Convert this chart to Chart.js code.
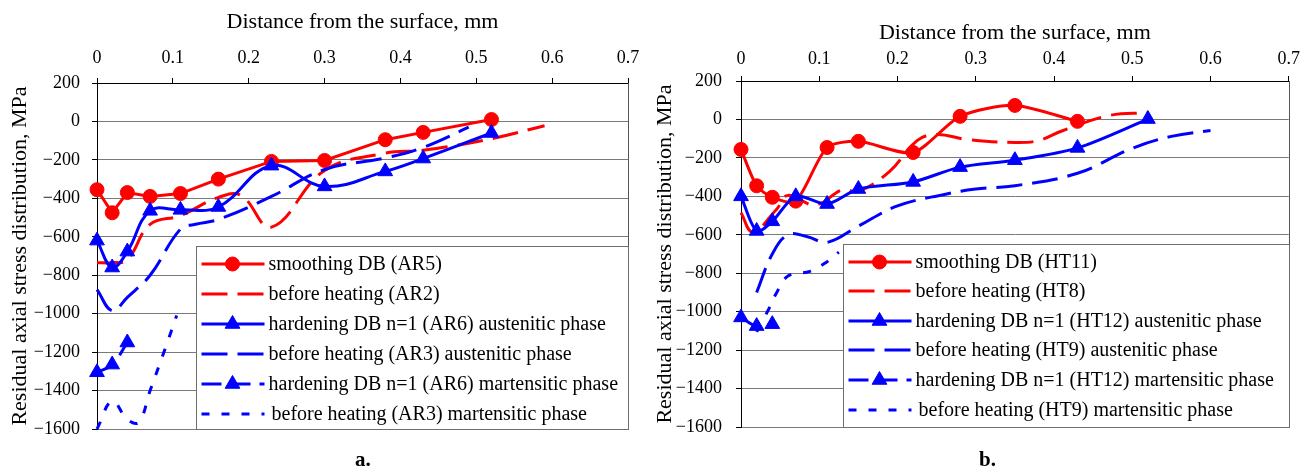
<!DOCTYPE html>
<html><head><meta charset="utf-8">
<script src="https://cdn.jsdelivr.net/npm/chart.js@4.4.1/dist/chart.umd.min.js"></script>
<style>
html,body{margin:0;padding:0;background:#fff;}
#wrap{position:relative;width:1306px;height:471px;overflow:hidden;background:#fff;}
canvas{position:absolute;top:0;}
#c1{left:0}
#c2{left:650px}
.lab{position:absolute;font:bold 21px 'Liberation Serif','Times New Roman',serif;top:447px;color:#000;}
</style></head><body>
<div id="wrap">
<canvas id="c1" width="650" height="471"></canvas>
<canvas id="c2" width="656" height="471"></canvas>
<div class="lab" style="left:355px">a.</div>
<div class="lab" style="left:979px">b.</div>
</div>
<script>
// ---- axis ticks ----
const xTickValues = [0,0.1,0.2,0.3,0.4,0.5,0.6,0.7];
const xTickLabels = ['0','0.1','0.2','0.3','0.4','0.5','0.6','0.7'];
const yTickValues = [-1600,-1400,-1200,-1000,-800,-600,-400,-200,0,200];
const yTickLabels = ['\u22121600','\u22121400','\u22121200','\u22121000','\u2212800','\u2212600','\u2212400','\u2212200','0','200'];
const xTitle = 'Distance from the surface, mm';
const yTitle = 'Residual axial stress distribution, MPa';

// ---- chart a ----
const xAR5 = [0,0.02,0.04,0.07,0.11,0.16,0.23,0.30,0.38,0.43,0.52];
const yAR5 = [-355,-475,-370,-390,-375,-300,-208,-203,-95,-57,10];
const xAR2 = [0,0.02,0.04,0.07,0.11,0.16,0.19,0.23,0.30,0.38,0.43,0.52,0.59];
const yAR2 = [-735,-735,-720,-535,-490,-395,-385,-550,-255,-165,-150,-90,-22];
const xAR6a = [0,0.02,0.04,0.07,0.11,0.16,0.23,0.30,0.38,0.43,0.52];
const yAR6a = [-620,-760,-677,-465,-460,-445,-230,-338,-260,-193,-60];
const xAR3a = [0,0.02,0.04,0.07,0.11,0.13,0.16,0.23,0.30,0.38,0.43,0.49];
const yAR3a = [-875,-985,-915,-800,-560,-535,-510,-390,-250,-190,-135,-30];
const xAR6m = [0,0.02,0.04];
const yAR6m = [-1305,-1265,-1150];
const xAR3m = [0,0.02,0.04,0.055,0.07,0.09,0.105];
const yAR3m = [-1600,-1455,-1550,-1565,-1400,-1180,-1010];
const labelsA = ['smoothing DB (AR5)','before heating (AR2)','hardening DB n=1 (AR6) austenitic phase','before heating (AR3) austenitic phase','hardening DB n=1 (AR6) martensitic phase','before heating (AR3) martensitic phase'];

// ---- chart b ----
const xHT11 = [0,0.02,0.04,0.07,0.11,0.15,0.22,0.28,0.35,0.43];
const yHT11 = [-156,-345,-405,-425,-146,-114,-172,16,73,-10];
const xHT8 = [0,0.015,0.045,0.06,0.095,0.13,0.15,0.19,0.225,0.25,0.29,0.35,0.38,0.41,0.47,0.52];
const yHT8 = [-485,-585,-470,-395,-445,-365,-375,-270,-110,-78,-105,-120,-110,-60,20,35];
const xHT12a = [0,0.02,0.04,0.07,0.11,0.15,0.22,0.28,0.35,0.43,0.52];
const yHT12a = [-400,-580,-530,-400,-440,-362,-325,-248,-212,-148,2];
const xHT9a = [0.02,0.04,0.06,0.085,0.11,0.15,0.2,0.26,0.3,0.35,0.43,0.5,0.55,0.6];
const yHT9a = [-900,-700,-600,-610,-640,-555,-450,-390,-362,-345,-280,-150,-88,-57];
const xHT12m = [0,0.02,0.04];
const yHT12m = [-1030,-1075,-1065];
const xHT9m = [0.02,0.035,0.045,0.06,0.088,0.11,0.125];
const yHT9m = [-1105,-990,-905,-815,-790,-740,-690];
const labelsB = ['smoothing DB (HT11)','before heating (HT8)','hardening DB n=1 (HT12) austenitic phase','before heating (HT9) austenitic phase','hardening DB n=1 (HT12) martensitic phase','before heating (HT9) martensitic phase'];

const RED = '#ff0000', BLUE = '#0000ff';
Chart.defaults.font.family = "'Liberation Serif','Times New Roman',serif";
Chart.defaults.color = '#000';

function pts(xs, ys){ return xs.map((x,i)=>({x:x, y:ys[i]})); }

function series(label, xs, ys, color, dash, pstyle, r, tension, idx){
  return {
    label: label, data: pts(xs, ys), borderColor: color, backgroundColor: color,
    borderWidth: 3, borderDash: dash, tension: tension,
    pointStyle: pstyle || 'circle', pointRadius: r, pointHoverRadius: r,
    pointBackgroundColor: color, pointBorderColor: color, pointBorderWidth: 1,
    clip: 14, order: -idx, fill: false
  };
}

const legendPlugin = {
  id: 'boxLegend',
  afterDatasetsDraw(chart, args, opts){
    const ctx = chart.ctx, xs = chart.scales.x, ys = chart.scales.y, ca = chart.chartArea;
    const L = Math.round(xs.getPixelForValue(opts.x0)) + 0.5;
    const T = Math.round(ys.getPixelForValue(opts.y0)) + 0.5;
    const R = Math.round(ca.right) + 0.5, B = Math.round(ca.bottom) + 0.5;
    ctx.save();
    ctx.fillStyle = '#fff'; ctx.fillRect(L, T, R - L, B - T);
    ctx.strokeStyle = '#6e6e6e'; ctx.lineWidth = 1; ctx.setLineDash([]);
    ctx.strokeRect(L, T, R - L, B - T);
    chart.data.datasets.forEach((ds, i) => {
      const cy = Math.round(T + opts.first + i * opts.step);
      ctx.setLineDash(ds.borderDash || []);
      ctx.strokeStyle = ds.borderColor; ctx.lineWidth = ds.borderWidth;
      ctx.beginPath(); ctx.moveTo(L + 5, cy); ctx.lineTo(L + 68, cy); ctx.stroke();
      ctx.setLineDash([]);
      if (ds.pointRadius > 0) {
        ctx.fillStyle = ds.pointBackgroundColor; ctx.strokeStyle = ds.pointBorderColor; ctx.lineWidth = 1;
        Chart.helpers.drawPoint(ctx, {pointStyle: ds.pointStyle, radius: ds.pointRadius, rotation: 0, borderWidth: 1}, L + 36, cy);
      }
      ctx.fillStyle = '#000';
      ctx.font = opts.fontSize + "px 'Liberation Serif','Times New Roman',serif";
      ctx.textBaseline = 'middle'; ctx.textAlign = 'left';
      ctx.fillText(ds.label, L + 72 + (i === 5 ? 3 : 0), cy + 1);
    });
    ctx.restore();
  }
};

const borderPlugin = {
  id: 'rightBorder',
  beforeDatasetsDraw(chart){
    const ctx = chart.ctx, ca = chart.chartArea;
    const xr = Math.round(ca.right) + 0.5;
    ctx.save(); ctx.strokeStyle = '#555'; ctx.lineWidth = 1;
    ctx.beginPath(); ctx.moveTo(xr, ca.top); ctx.lineTo(xr, ca.bottom); ctx.stroke();
    ctx.restore();
  }
};

function makeChart(id, datasets, cfg){
  return new Chart(document.getElementById(id), {
    type: 'line',
    data: { datasets: datasets },
    options: {
      responsive: false, animation: false, devicePixelRatio: 1,
      events: [],
      layout: { padding: { left: 0, top: 0, right: cfg.padRight, bottom: cfg.padBottom } },
      scales: {
        x: {
          type: 'linear', position: 'top', min: 0, max: 0.7,
          afterBuildTicks: s => { s.ticks = xTickValues.map(v => ({value: v})); },
          ticks: { color: '#000', font: { size: 18 }, padding: cfg.xTickPad, maxRotation: 0, autoSkip: false,
                   callback: (v, i) => xTickLabels[i] },
          grid: { drawOnChartArea: false, drawTicks: true, tickLength: 5, color: '#000' },
          border: { color: '#000', width: 1 },
          title: { display: true, text: xTitle, color: '#000', font: { size: 22 }, padding: { top: cfg.xTitlePad, bottom: 0 } },
          afterFit: s => { s.height = cfg.top; }
        },
        y: {
          type: 'linear', min: -1600, max: 200,
          afterBuildTicks: s => { s.ticks = yTickValues.map(v => ({value: v})); },
          ticks: { color: '#000', font: { size: 18 }, padding: cfg.yTickPad, autoSkip: false,
                   callback: (v, i) => yTickLabels[i] },
          grid: { color: '#7a7a7a', tickColor: '#000', tickLength: 5, lineWidth: 1 },
          border: { color: '#000', width: 1 },
          title: { display: true, text: yTitle, color: '#000', font: { size: 22 }, padding: { top: cfg.yTitlePad, bottom: 0 } },
          afterFit: s => { s.width = cfg.left; }
        }
      },
      plugins: {
        legend: { display: false }, tooltip: { enabled: false },
        boxLegend: { x0: 0.13, y0: -650, first: 17, step: cfg.step, fontSize: 20 }
      }
    },
    plugins: [borderPlugin, legendPlugin]
  });
}

const dsA = [
  series(labelsA[0], xAR5, yAR5, RED, [], 'circle', 7, 0, 0),
  series(labelsA[1], xAR2, yAR2, RED, [26,10], 'circle', 0, 0.4, 1),
  series(labelsA[2], xAR6a, yAR6a, BLUE, [], 'triangle', 8.5, 0.4, 2),
  series(labelsA[3], xAR3a, yAR3a, BLUE, [26,10], 'circle', 0, 0.4, 3),
  series(labelsA[4], xAR6m, yAR6m, BLUE, [20,9], 'triangle', 8.5, 0.4, 4),
  series(labelsA[5], xAR3m, yAR3m, BLUE, [8,12], 'circle', 0, 0.4, 5)
];
const dsB = [
  series(labelsB[0], xHT11, yHT11, RED, [], 'circle', 7, 0.25, 0),
  series(labelsB[1], xHT8, yHT8, RED, [26,10], 'circle', 0, 0.4, 1),
  series(labelsB[2], xHT12a, yHT12a, BLUE, [], 'triangle', 8.5, 0.3, 2),
  series(labelsB[3], xHT9a, yHT9a, BLUE, [26,10], 'circle', 0, 0.4, 3),
  series(labelsB[4], xHT12m, yHT12m, BLUE, [20,9], 'triangle', 8.5, 0.4, 4),
  series(labelsB[5], xHT9m, yHT9m, BLUE, [8,12], 'circle', 0, 0.4, 5)
];

makeChart('c1', dsA, { left: 97, top: 83, padRight: 22, padBottom: 42, xTickPad: 9, xTitlePad: 9, yTickPad: 12, yTitlePad: 7, step: 30 });
makeChart('c2', dsB, { left: 91, top: 81, padRight: 17, padBottom: 44, xTickPad: 6, xTitlePad: 20, yTickPad: 14, yTitlePad: 2, step: 29.6 });
</script>
</body></html>
